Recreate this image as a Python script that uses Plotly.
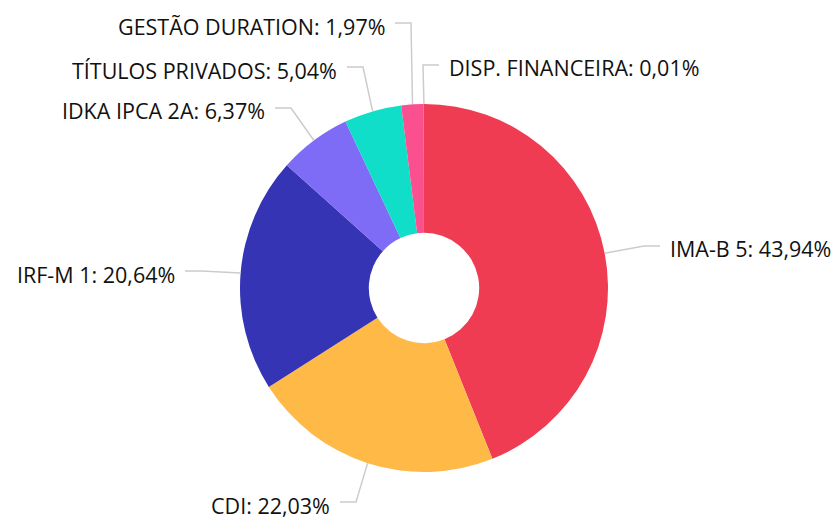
import math
import plotly.graph_objects as go

# ---- data ----
labels = ["IMA-B 5", "CDI", "IRF-M 1", "IDKA IPCA 2A", "TÍTULOS PRIVADOS",
          "GESTÃO DURATION", "DISP. FINANCEIRA"]
values = [43.94, 22.03, 20.64, 6.37, 5.04, 1.97, 0.01]
value_text = ["43,94%", "22,03%", "20,64%", "6,37%", "5,04%", "1,97%", "0,01%"]
colors = ["#EF3C52", "#FFB946", "#3434B5", "#7F6CF6", "#10DEC8", "#FA5090", "#FFD0DC"]

# ---- layout constants (pixels) ----
W, H = 838, 519
CX, CY, R = 424, 288, 184
HOLE = 0.30
# label anchor: (x of connector end near text, y, side)  side: +1 text to right, -1 to left
label_anchor = [
    (660, 246, 1),
    (340, 502, -1),
    (185, 271, -1),
    (275, 108, -1),
    (347, 67, -1),
    (395, 23, -1),
    (439, 65, 1),
]
ELBOW = 16
GAP = 8


def px(x):
    return x / W


def py(y):
    return 1 - y / H


fig = go.Figure()
fig.add_trace(go.Pie(
    labels=labels, values=values, sort=False, direction="clockwise", rotation=0,
    hole=HOLE, textinfo="none", hoverinfo="label+percent",
    marker=dict(colors=colors, line=dict(color="#ffffff", width=0)),
    domain=dict(x=[px(CX - R), px(CX + R)], y=[py(CY + R), py(CY - R)]),
    showlegend=False,
))

total = sum(values)
cum = 0.0
shapes = []
annotations = []
for lab, v, vt, (lx, ly, side) in zip(labels, values, value_text, label_anchor):
    mid = (cum + v / 2) / total * 2 * math.pi
    cum += v
    ex = CX + R * math.sin(mid)
    ey = CY - R * math.cos(mid)
    bx = lx - side * ELBOW
    path = f"M {px(ex)} {py(ey)} L {px(bx)} {py(ly)} L {px(lx)} {py(ly)}"
    shapes.append(dict(type="path", path=path, xref="paper", yref="paper",
                       line=dict(color="#cccccc", width=1.5)))
    annotations.append(dict(
        x=px(lx + side * GAP), y=py(ly + 3), xref="paper", yref="paper",
        text=f"{lab}: {vt}", showarrow=False,
        xanchor="left" if side > 0 else "right", yanchor="middle",
        font=dict(family="Open Sans", size=21.5, color="#111111"),
    ))

fig.update_layout(
    width=W, height=H, autosize=False,
    margin=dict(l=0, r=0, t=0, b=0),
    paper_bgcolor="#ffffff", plot_bgcolor="#ffffff",
    shapes=shapes, annotations=annotations,
)

fig.write_html("out.html")
